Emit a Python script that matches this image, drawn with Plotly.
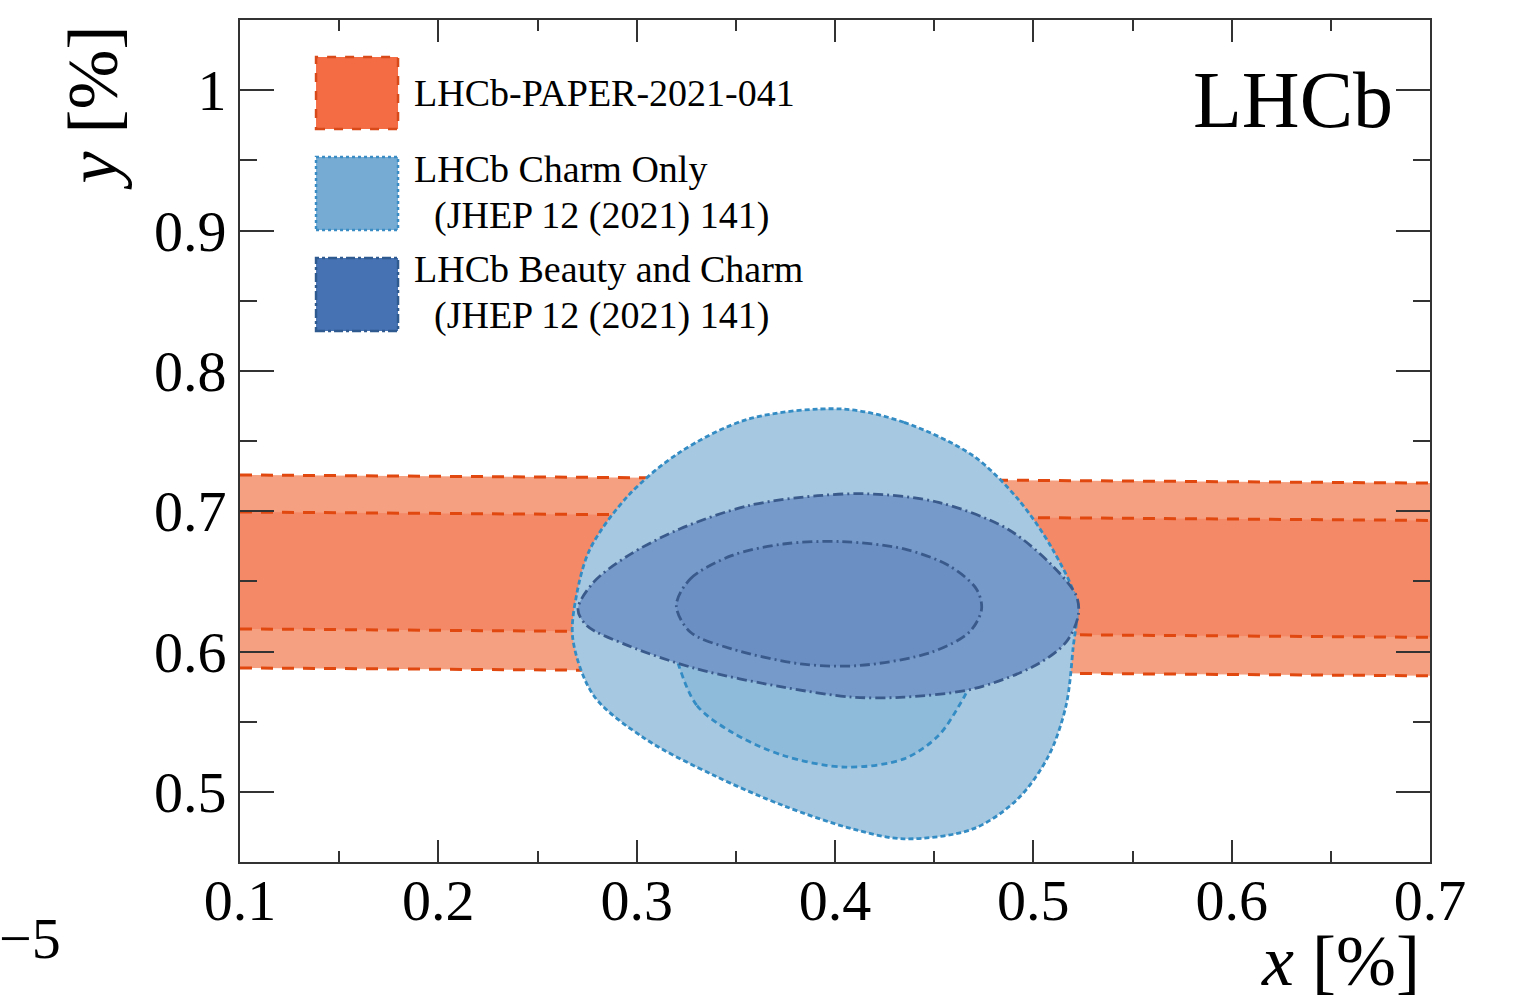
import plotly.graph_objects as go

# ---------------- data ----------------
band_x = [0.1, 0.7]
band_outer_hi = [0.7258, 0.7200]
band_inner_hi = [0.6994, 0.6934]
band_inner_lo = [0.6161, 0.6101]
band_outer_lo = [0.5883, 0.5827]

charm2_x = [0.4035, 0.4348, 0.4696, 0.4922, 0.5096, 0.5217, 0.5200, 0.5165, 0.5078, 0.4922, 0.4696,
            0.4348, 0.4087, 0.3739, 0.3391, 0.3043, 0.2783, 0.2678, 0.2696, 0.2765, 0.2957, 0.3217, 0.3565]
charm2_y = [0.7728, 0.7633, 0.7395, 0.7087, 0.6731, 0.6351, 0.6019, 0.5615, 0.5259, 0.4950, 0.4736,
            0.4665, 0.4736, 0.4902, 0.5116, 0.5378, 0.5686, 0.6090, 0.6396, 0.6731, 0.7110, 0.7419, 0.7657]

charm1_x = [0.3215, 0.3304, 0.3478, 0.3739, 0.4052, 0.4348, 0.4522, 0.4626, 0.4670, 0.4720, 0.4650,
            0.4400, 0.4000, 0.3600, 0.3300, 0.3180]
charm1_y = [0.5890, 0.5615, 0.5426, 0.5259, 0.5176, 0.5235, 0.5401, 0.5615, 0.5734, 0.6000, 0.6500,
            0.6900, 0.7000, 0.6900, 0.6500, 0.6100]

bc2_x = [0.2704, 0.2783, 0.2957, 0.3217, 0.3565, 0.3913, 0.4174, 0.4522, 0.4870, 0.5096, 0.5217,
         0.5226, 0.5165, 0.5009, 0.4696, 0.4348, 0.4087, 0.3739, 0.3304, 0.2957, 0.2748]
bc2_y = [0.6302, 0.6494, 0.6683, 0.6873, 0.7040, 0.7110, 0.7123, 0.7063, 0.6873, 0.6612, 0.6396,
         0.6254, 0.6066, 0.5900, 0.5734, 0.5675, 0.5675, 0.5746, 0.5876, 0.6042, 0.6185]

bc1_x = [0.3200, 0.3270, 0.3478, 0.3739, 0.4035, 0.4348, 0.4574, 0.4713, 0.4739, 0.4678, 0.4487,
         0.4122, 0.3826, 0.3478, 0.3270]
bc1_y = [0.6327, 0.6517, 0.6683, 0.6766, 0.6783, 0.6731, 0.6612, 0.6446, 0.6302, 0.6139, 0.5995,
         0.5900, 0.5912, 0.6019, 0.6139]

legend_labels = ["LHCb-PAPER-2021-041", "LHCb Charm Only", "(JHEP 12 (2021) 141)",
                 "LHCb Beauty and Charm", "(JHEP 12 (2021) 141)"]

# ---------------- style ----------------
FONT = "Liberation Serif"
OR_LINE = "#E04810"
OR_OUT = "#F5A080"
OR_IN = "#F48968"
LB_LINE = "#348CC4"
LB_OUT = "#A6C8E0"
LB_IN = "#8FBBDB"
DB_LINE = "#3A5A8C"
DB_OUT = "#769BCB"
DB_IN = "#6B8FC2"
AX = "#333333"

fig = go.Figure()


def band(top, bot, color):
    fig.add_trace(go.Scatter(x=band_x + band_x[::-1], y=top + bot[::-1], fill="toself",
                             fillcolor=color, mode="lines", line=dict(width=0),
                             hoverinfo="skip", showlegend=False))


band(band_outer_hi, band_outer_lo, OR_OUT)
band(band_inner_hi, band_inner_lo, OR_IN)
for yy in [band_outer_hi, band_inner_hi, band_inner_lo, band_outer_lo]:
    fig.add_trace(go.Scatter(x=band_x, y=yy, mode="lines",
                             line=dict(color=OR_LINE, width=3, dash="12px,9px"),
                             hoverinfo="skip", showlegend=False))


def contour(xs, ys, fillc, linec, dash, width=2.8):
    fig.add_trace(go.Scatter(x=xs + xs[:1], y=ys + ys[:1], fill="toself", fillcolor=fillc,
                             mode="lines", line=dict(color=linec, width=width, dash=dash,
                                                     shape="spline", smoothing=0.9),
                             hoverinfo="skip", showlegend=False))


contour(charm2_x, charm2_y, LB_OUT, LB_LINE, "5px,3px")
contour(charm1_x, charm1_y, LB_IN, LB_LINE, "6px,4px")
contour(bc2_x, bc2_y, DB_OUT, DB_LINE, "10px,4px,2px,4px")
contour(bc1_x, bc1_y, DB_IN, DB_LINE, "10px,4px,2px,4px")

# ---------------- legend (drawn manually) ----------------
sw = [
    (0.9561, 0.8705, "#F46C44", "#D84A1A", "dash"),
    (0.8373, 0.7506, "#76ACD4", "#3A8CC4", "dot"),
    (0.7173, 0.6306, "#4672B4", "#2F5A90", "dashdot"),
]
for top, bot, fc, lc, d in sw:
    fig.add_shape(type="rect", xref="paper", yref="paper", x0=0.0639, x1=0.1328, y0=bot, y1=top,
                  fillcolor=fc, line=dict(color=lc, width=2.5, dash=d), layer="above")

leg_pos = [(0.1445, 0.9133), (0.1445, 0.8230), (0.1613, 0.7684), (0.1445, 0.7043), (0.1613, 0.6485)]
for (lx, ly), txt in zip(leg_pos, legend_labels):
    fig.add_annotation(x=lx, y=ly, xref="paper", yref="paper", text=txt, showarrow=False,
                       xanchor="left", yanchor="middle", font=dict(family=FONT, size=38, color="black"))

fig.add_annotation(x=0.9706, y=0.905, xref="paper", yref="paper", text="LHCb", showarrow=False,
                   xanchor="right", yanchor="middle", font=dict(family=FONT, size=80, color="black"))

fig.add_annotation(x=-0.1235, y=0.895, xref="paper", yref="paper", text="<i>y</i> [%]", showarrow=False,
                   textangle=-90, xanchor="center", yanchor="middle",
                   font=dict(family=FONT, size=72, color="black"))
fig.add_annotation(x=0.925, y=-0.117, xref="paper", yref="paper", text="<i>x</i> [%]", showarrow=False,
                   xanchor="center", yanchor="middle",
                   font=dict(family=FONT, size=72, color="black"))
fig.add_annotation(x=-0.1765, y=-0.0903, xref="paper", yref="paper", text="\u22125", showarrow=False,
                   xanchor="center", yanchor="middle",
                   font=dict(family=FONT, size=58, color="black"))

axis_common = dict(showgrid=False, zeroline=False, showline=True, linecolor=AX, linewidth=2,
                   mirror="ticks", ticks="inside", tickcolor=AX, tickwidth=2,
                   tickfont=dict(family=FONT, size=58, color="black"))

fig.update_xaxes(range=[0.1, 0.7], dtick=0.1, tick0=0.1, ticklen=22, ticklabelstandoff=-14,
                 minor=dict(dtick=0.05, ticklen=11, ticks="inside", tickcolor=AX, tickwidth=2),
                 **axis_common)
fig.update_yaxes(range=[0.45, 1.05], dtick=0.1, tick0=0.5, ticklen=34,
                 minor=dict(dtick=0.05, ticklen=17, ticks="inside", tickcolor=AX, tickwidth=2),
                 **axis_common)

fig.update_layout(width=1516, height=1004, margin=dict(l=240, r=86, t=20, b=142),
                  plot_bgcolor="white", paper_bgcolor="white", showlegend=False,
                  font=dict(family=FONT))

fig.write_html("out.html")
